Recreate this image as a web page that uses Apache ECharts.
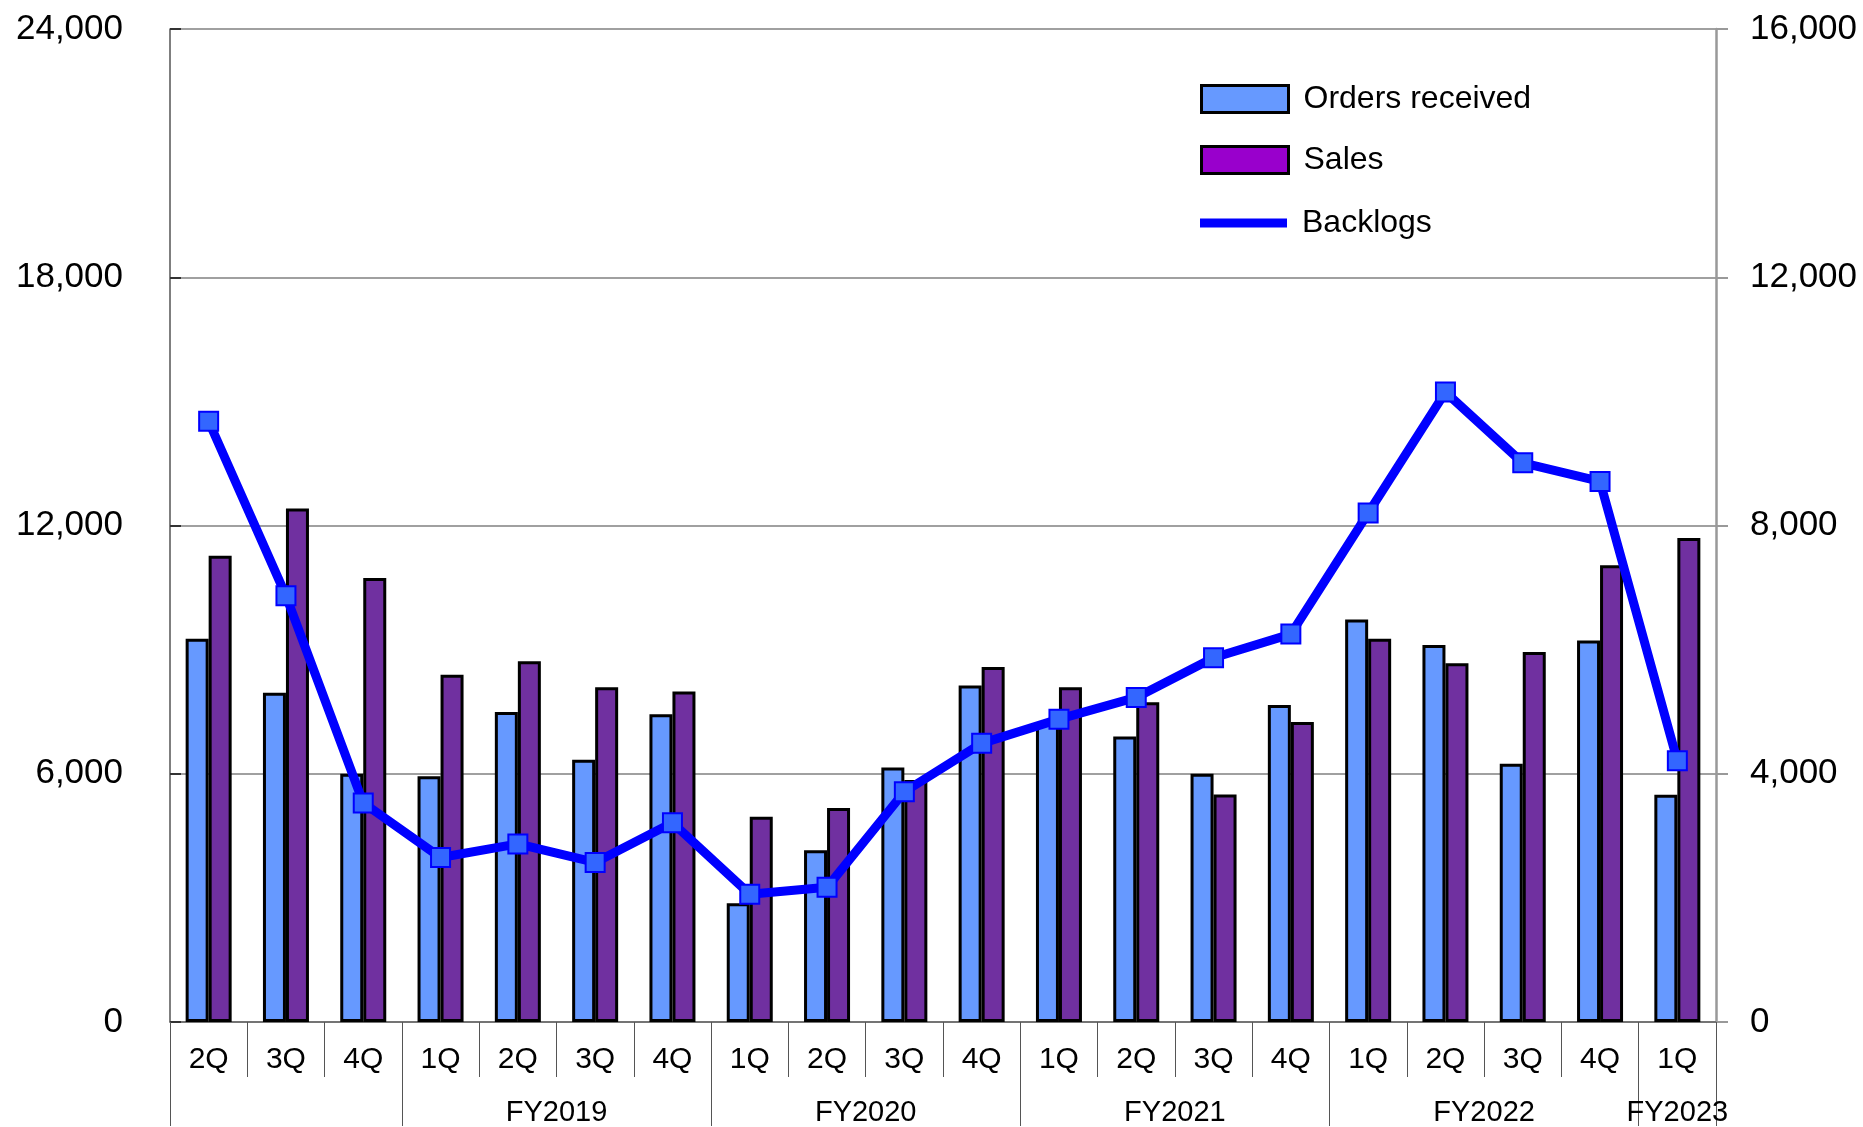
<!DOCTYPE html>
<html>
<head>
<meta charset="utf-8">
<script src="https://cdn.jsdelivr.net/npm/echarts@6/dist/echarts.min.js"></script>
<style>html,body{margin:0;padding:0;background:#fff}#c{width:1863px;height:1127px}</style>
</head>
<body>
<div id="c"></div>
<script>
var quarters = ['2Q','3Q','4Q','1Q','2Q','3Q','4Q','1Q','2Q','3Q','4Q','1Q','2Q','3Q','4Q','1Q','2Q','3Q','4Q','1Q'];
var ordersReceived = [9260, 7960, 6000, 5940, 7490, 6340, 7440, 2870, 4150, 6150, 8130, 7230, 6900, 6000, 7660, 9730, 9110, 6240, 9220, 5490];
var sales = [11270, 12410, 10730, 8390, 8720, 8090, 7990, 4960, 5170, 5850, 8580, 8090, 7730, 5500, 7250, 9260, 8670, 8940, 11040, 11700];
var backlogs = [9680, 6870, 3530, 2650, 2870, 2570, 3210, 2060, 2170, 3710, 4490, 4880, 5230, 5870, 6250, 8200, 10150, 9010, 8710, 4210];
var fyNames = ['', 'FY2019', 'FY2020', 'FY2021', 'FY2022', 'FY2023'];
var fyCounts = [3, 4, 4, 4, 4, 1];
var leftTicks = [0, 6000, 12000, 18000, 24000];
var rightTicks = [0, 4000, 8000, 12000, 16000];

// fiscal-year group boundaries and centres (in category units)
var fyBounds = [0], fyCenters = [], fyLabelMap = {};
(function(){
  var acc = 0;
  for (var i = 0; i < fyCounts.length; i++) {
    var c = acc + fyCounts[i] / 2;
    acc += fyCounts[i];
    fyBounds.push(acc);
    if (fyNames[i]) { fyCenters.push(c); fyLabelMap[c] = fyNames[i]; }
  }
})();

var FONT = '"Liberation Sans", Arial, sans-serif';
var chart = echarts.init(document.getElementById('c'), null, {renderer: 'canvas'});

function legendCfg(name, top, itemH, style) {
  return {
    left: 1200, top: top, orient: 'vertical', padding: 0,
    itemWidth: 87, itemHeight: itemH,
    selectedMode: false,
    textStyle: {fontFamily: FONT, fontSize: 32, color: '#000', lineHeight: 36, padding: [0, 0, 0, 10]},
    data: [{name: name, icon: 'rect', itemStyle: style}]
  };
}

chart.setOption({
  animation: false,
  backgroundColor: '#fff',
  grid: {left: 170, right: 147, top: 29, bottom: 104, containLabel: false},
  legend: [
    legendCfg('Orders received', 81, 27, {color: '#6699ff', borderColor: '#000', borderWidth: 3}),
    legendCfg('Sales', 142, 27, {color: '#9900cc', borderColor: '#000', borderWidth: 3}),
    legendCfg('Backlogs', 205, 9, {color: '#0000ff', borderWidth: 0})
  ],
  xAxis: [
    {
      type: 'category', data: quarters, position: 'bottom', boundaryGap: true,
      axisLine: {show: true, lineStyle: {color: '#666', width: 1.5}},
      axisTick: {show: true, interval: 0, length: 55, lineStyle: {color: '#555', width: 1}},
      axisLabel: {interval: 0, margin: 23, fontFamily: FONT, fontSize: 30, color: '#000'},
      splitLine: {show: false}
    },
    {
      type: 'value', min: 0, max: quarters.length, position: 'bottom',
      axisLine: {show: false},
      splitLine: {show: false},
      axisTick: {show: true, customValues: fyBounds, length: 104, lineStyle: {color: '#555', width: 1}},
      axisLabel: {
        customValues: fyCenters, margin: 76, fontFamily: FONT, fontSize: 29, color: '#000',
        hideOverlap: false, showMinLabel: true, showMaxLabel: true,
        formatter: function (v) { return fyLabelMap[v] || ''; }
      }
    }
  ],
  yAxis: [
    {
      type: 'value', min: 0, max: 24000, interval: 6000, position: 'left',
      axisLine: {show: true, lineStyle: {color: '#555', width: 1.5}},
      axisTick: {show: true, inside: true, length: 11, lineStyle: {color: '#333', width: 2}},
      axisLabel: {
        margin: 47, fontFamily: FONT, fontSize: 35, color: '#000',
        customValues: leftTicks,
        formatter: function (v) { return v.toLocaleString('en-US'); }
      },
      splitLine: {show: true, lineStyle: {color: '#808080', width: 1.5}}
    },
    {
      type: 'value', min: 0, max: 16000, interval: 4000, position: 'right',
      axisLine: {show: true, lineStyle: {color: '#999', width: 2.5}},
      axisTick: {show: true, inside: false, length: 12, lineStyle: {color: '#999', width: 2}},
      axisLabel: {
        margin: 34, fontFamily: FONT, fontSize: 35, color: '#000',
        customValues: rightTicks,
        formatter: function (v) { return v.toLocaleString('en-US'); }
      },
      splitLine: {show: false}
    }
  ],
  series: [
    {
      name: 'Orders received', type: 'bar', xAxisIndex: 0, yAxisIndex: 0,
      data: ordersReceived, barWidth: 23, barGap: '0%',
      itemStyle: {color: '#6699ff', borderColor: '#000', borderWidth: 3},
      z: 2
    },
    {
      name: 'Sales', type: 'bar', xAxisIndex: 0, yAxisIndex: 0,
      data: sales, barWidth: 23, barGap: '0%',
      itemStyle: {color: '#7030a0', borderColor: '#000', borderWidth: 3},
      z: 2
    },
    {
      name: 'Backlogs', type: 'line', xAxisIndex: 0, yAxisIndex: 1,
      data: backlogs,
      symbol: 'rect', symbolSize: 19,
      lineStyle: {color: '#0000ff', width: 9},
      itemStyle: {color: '#3366ff', borderColor: '#0000ff', borderWidth: 2},
      z: 5
    }
  ]
});
</script>
</body>
</html>
